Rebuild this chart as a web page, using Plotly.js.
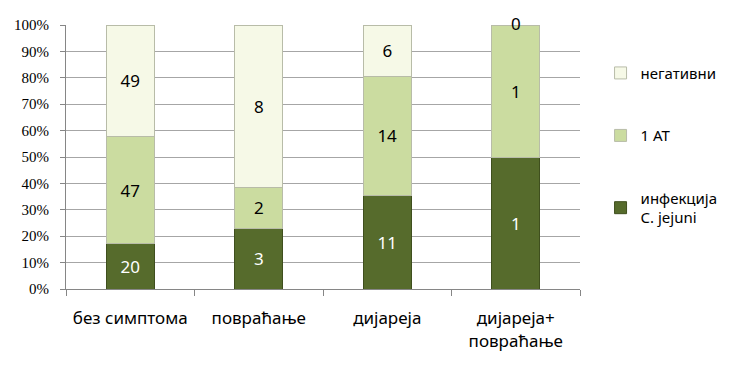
<!DOCTYPE html>
<html>
<head>
<meta charset="utf-8">
<script src="https://cdn.plot.ly/plotly-3.0.1.min.js"></script>
<style>html,body{margin:0;padding:0;background:#fff;}#chart{width:740px;height:389px;}</style>
</head>
<body>
<div id="chart"></div>
<script>
const categories = ['без симптома', 'повраћање', 'дијареја', 'дијареја+<br>повраћање'];
const seriesNames = ['инфекција<br>C. jejuni', '1 AT', 'негативни'];
const infekcija = [20, 3, 11, 1];
const jedanAT = [47, 2, 14, 1];
const negativni = [49, 8, 6, 0];
const yTickVals = [0, 10, 20, 30, 40, 50, 60, 70, 80, 90, 100];

const colors = ['#566b2c', '#cbdca0', '#f6f9e7'];
const textColors = ['#ffffff', '#000000', '#000000'];
const allSeries = [infekcija, jedanAT, negativni];

const traces = allSeries.map((vals, i) => ({
  type: 'bar',
  name: seriesNames[i],
  x: categories,
  y: vals,
  text: vals.map(String),
  textposition: vals.map(v => (v === 0 ? 'none' : 'inside')),
  insidetextanchor: 'middle',
  textangle: 0,
  textfont: {family: 'Noto Sans, sans-serif', size: 17, color: textColors[i]},
  marker: {color: colors[i], line: {color: i === 0 ? '#3f4f1e' : '#b8bca8', width: 1}},
  width: 0.375,
  legendgroup: 'g' + i,
  legendrank: 1000 - i,
  hoverinfo: 'skip'
}));

// zero-valued segments: label sits on the top of the stack (100%)
const annotations = [];
categories.forEach((c, k) => {
  if (negativni[k] === 0) {
    annotations.push({
      x: c, y: 100, xref: 'x', yref: 'y',
      text: String(negativni[k]), showarrow: false,
      yanchor: 'middle', yshift: 2,
      font: {family: 'Noto Sans, sans-serif', size: 17, color: '#000000'}
    });
  }
});

const layout = {
  width: 740,
  height: 389,
  margin: {l: 66, r: 160, t: 25, b: 100},
  paper_bgcolor: '#ffffff',
  plot_bgcolor: '#ffffff',
  barmode: 'stack',
  barnorm: 'percent',
  showlegend: true,
  annotations: annotations,
  legend: {
    x: 1.04, xanchor: 'left',
    y: 0.88, yanchor: 'top',
    traceorder: 'grouped',
    tracegroupgap: 40,
    font: {family: 'Noto Sans, sans-serif', size: 15, color: '#000000'},
    itemwidth: 30
  },
  xaxis: {
    type: 'category',
    showline: true,
    linecolor: '#868686',
    linewidth: 1,
    ticks: 'outside',
    tickson: 'boundaries',
    ticklen: 6,
    tickcolor: '#868686',
    ticklabelstandoff: 14,
    tickfont: {family: 'Noto Sans, sans-serif', size: 17, color: '#000000'},
    showgrid: false,
    automargin: false
  },
  yaxis: {
    range: [0, 100],
    tickvals: yTickVals,
    ticktext: yTickVals.map(v => v + '%'),
    showline: true,
    linecolor: '#868686',
    linewidth: 1,
    ticks: 'outside',
    ticklen: 5,
    tickcolor: '#868686',
    ticklabelstandoff: 8,
    showgrid: true,
    gridcolor: '#a6a6a6',
    gridwidth: 1,
    tickfont: {family: 'Liberation Serif, serif', size: 15, color: '#000000'},
    zeroline: false,
    automargin: false
  }
};

Plotly.newPlot('chart', traces, layout, {displayModeBar: false, staticPlot: true});
</script>
</body>
</html>
